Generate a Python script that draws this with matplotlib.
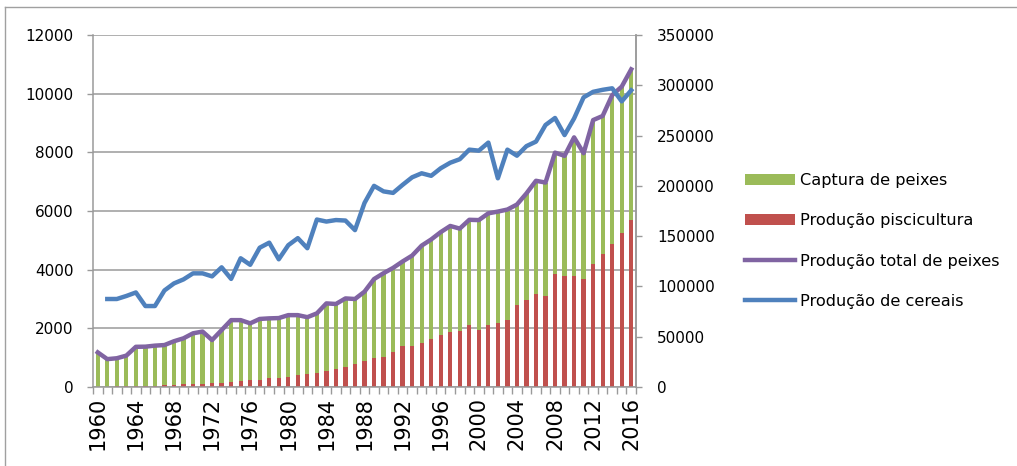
import matplotlib
matplotlib.use("Agg")
import matplotlib.pyplot as plt
import numpy as np
from matplotlib.lines import Line2D
from matplotlib.patches import Patch

years = list(range(1960, 2017))

piscicultura = [15, 15, 20, 25, 30, 45, 50, 55, 85, 90,
                95, 105, 125, 150, 170, 200, 230, 255, 290, 310,
                355, 400, 445, 490, 555, 620, 690, 780, 890, 1000,
                1020, 1200, 1390, 1410, 1510, 1640, 1760, 1880, 1920, 2110,
                1950, 2110, 2170, 2290, 2790, 2970, 3170, 3110, 3850, 3790,
                3790, 3680, 4190, 4540, 4880, 5260, 5690]

captura = [1165, 935, 960, 1045, 1340, 1330, 1360, 1375, 1475, 1570,
           1735, 1785, 1475, 1790, 2110, 2080, 1940, 2065, 2050, 2040,
           2095, 2050, 1935, 2020, 2295, 2210, 2330, 2220, 2360, 2680,
           2860, 2860, 2890, 3070, 3310, 3390, 3520, 3610, 3480, 3590,
           3740, 3810, 3810, 3760, 3430, 3630, 3860, 3860, 4140, 4090,
           4720, 4290, 4910, 4700, 5070, 4980, 5140]

total = [1180, 950, 980, 1070, 1370, 1375, 1410, 1430, 1560, 1660,
         1830, 1890, 1600, 1940, 2280, 2280, 2170, 2320, 2340, 2350,
         2450, 2450, 2380, 2510, 2850, 2830, 3020, 3000, 3250, 3680,
         3880, 4060, 4280, 4480, 4820, 5030, 5280, 5490, 5400, 5700,
         5690, 5920, 5980, 6050, 6220, 6600, 7030, 6970, 7990, 7880,
         8510, 7970, 9100, 9240, 9950, 10240, 10830]

cereais_years = list(range(1961, 2017))
cereais = [87500, 87500, 90500, 94000, 80500, 80500, 96000, 103000, 107000,
           113000, 113000, 110000, 119000, 107500, 128000, 121500, 138500, 143500, 127000,
           141000, 148000, 138000, 166500, 164500, 166000, 165500, 156000, 183000, 200000,
           194500, 193000, 201000, 208500, 212500, 210000, 217500, 223000, 226500, 236000,
           235000, 243000, 207500, 236000, 230000, 239500, 244000, 260500, 267500, 250500,
           267000, 288000, 293500, 295500, 297000, 284000, 295000]

labels = ["Captura de peixes", "Produção piscicultura",
          "Produção total de peixes", "Produção de cereais"]

c_green = "#9BBB59"
c_red = "#C0504D"
c_purple = "#8064A2"
c_blue = "#4F81BD"
c_grid = "#9A9A9A"

plt.rcParams['font.family'] = ['DejaVu Sans']

fig = plt.figure(figsize=(10.17, 4.66), dpi=100)
ax = fig.add_axes([93/1017, 1-387/466, (636-93)/1017, (387-35)/466])

x = np.arange(len(years))
cx = np.array([years.index(y) for y in cereais_years])

ax.bar(x, piscicultura, width=0.45, color=c_red, zorder=2)
ax.bar(x, captura, width=0.45, bottom=piscicultura, color=c_green, zorder=2)
ax.plot(x, total, color=c_purple, lw=3.2, solid_joinstyle='round', zorder=3)

ax.set_xlim(-0.5, len(years) - 0.5)
ax.set_ylim(0, 12000)
ax.set_yticks(range(0, 12001, 2000))
ax.yaxis.grid(True, color=c_grid, lw=1.1)
ax.set_axisbelow(True)

tick_pos = [i for i, y in enumerate(years) if (y - 1960) % 4 == 0]
ax.set_xticks(tick_pos)
ax.set_xticklabels([str(years[i]) for i in tick_pos], rotation=90, fontsize=15)
ax.set_xticks(np.arange(-0.5, len(years), 1.0), minor=True)
ax.tick_params(axis='x', which='major', length=0, pad=7)
ax.tick_params(axis='x', which='minor', length=5, color=c_grid, width=1)
ax.tick_params(axis='y', length=4, color=c_grid, width=1, labelsize=11, pad=10)

for s in ['top']:
    ax.spines[s].set_visible(False)
for s in ['left', 'bottom', 'right']:
    ax.spines[s].set_color(c_grid)
    ax.spines[s].set_linewidth(1.1)

ax2 = ax.twinx()
ax2.plot(cx, cereais, color=c_blue, lw=3.2, solid_joinstyle='round', zorder=3)
ax2.set_ylim(0, 350000)
ax2.set_yticks(range(0, 350001, 50000))
ax2.tick_params(axis='y', length=4, color=c_grid, width=1, labelsize=11, pad=11)
for s in ['top', 'left', 'bottom']:
    ax2.spines[s].set_visible(False)
ax2.spines['right'].set_color(c_grid)
ax2.spines['right'].set_linewidth(1.1)

handles = [Patch(facecolor=c_green, edgecolor='none'),
           Patch(facecolor=c_red, edgecolor='none'),
           Line2D([0], [0], color=c_purple, lw=3.2),
           Line2D([0], [0], color=c_blue, lw=3.2)]
fig.legend(handles, labels, loc='upper left',
           bbox_to_anchor=(745/1017, 1-173/466), frameon=False,
           fontsize=11.6, handlelength=3.1, handletextpad=0.3,
           labelspacing=1.57, borderpad=0, borderaxespad=0)

# chart-area border (left and top edges visible in the reference)
fig.add_artist(Line2D([5/1017, 5/1017], [0, 1-7/466], color="#A0A0A0", lw=1,
                      transform=fig.transFigure))
fig.add_artist(Line2D([5/1017, 1], [1-7/466, 1-7/466], color="#A0A0A0", lw=1,
                      transform=fig.transFigure))

fig.savefig("out.png", dpi=100)
